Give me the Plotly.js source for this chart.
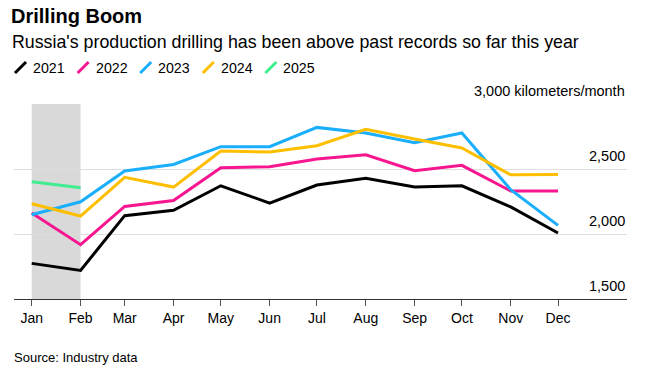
<!DOCTYPE html>
<html>
<head>
<meta charset="utf-8">
<script src="https://cdn.plot.ly/plotly-3.0.1.min.js"></script>
<style>html,body{margin:0;padding:0;background:#fff;}#chart{width:653px;height:372px;}</style>
</head>
<body>
<div id="chart"></div>
<script>
const months = ['2021-01-01','2021-02-01','2021-03-01','2021-04-01','2021-05-01','2021-06-01','2021-07-01','2021-08-01','2021-09-01','2021-10-01','2021-11-01','2021-12-01'];
const monthLabels = ['Jan','Feb','Mar','Apr','May','Jun','Jul','Aug','Sep','Oct','Nov','Dec'];
const seriesNames = ['2021','2022','2023','2024','2025'];
const v2021 = [1774, 1720, 2141, 2182, 2371, 2238, 2377, 2428, 2361, 2371, 2208, 2008];
const v2022 = [2161, 1918, 2212, 2258, 2510, 2518, 2577, 2610, 2487, 2528, 2331, 2331];
const v2023 = [2148, 2248, 2485, 2535, 2672, 2672, 2820, 2777, 2702, 2777, 2341, 2066];
const v2024 = [2233, 2138, 2436, 2361, 2638, 2631, 2679, 2805, 2731, 2662, 2455, 2458];
const v2025 = [2402, 2356];
const yTickVals = [1500, 2000, 2500, 3000];
const yTickText = ['1,500', '2,000', '2,500', '3,000 kilometers/month'];
const shadeRange = ['2021-01-01', '2021-02-01'];

const colors = ['#000000', '#f7168f', '#1aaefc', '#fdbf00', '#3fee90'];
const values = [v2021, v2022, v2023, v2024, v2025];
const FONT = 'Liberation Sans, Arial, Helvetica, sans-serif';

const traces = values.map((v, i) => ({
  type: 'scatter', mode: 'lines',
  x: months.slice(0, v.length), y: v,
  name: seriesNames[i],
  line: {color: colors[i], width: 3},
  hoverinfo: 'skip'
}));

const L = 14, R = 26, T = 104, B = 73, W = 653, H = 372;
const pw = W - L - R, ph = H - T - B;
const px = x => (x - L) / pw;
const py = y => (H - B - y) / ph;

const shapes = [{
  type: 'rect', xref: 'x', yref: 'paper',
  x0: shadeRange[0], x1: shadeRange[1], y0: 0, y1: 1,
  fillcolor: '#d9d9d9', line: {width: 0}, layer: 'below'
}];
const annotations = [];

// custom legend with slanted marks
seriesNames.forEach((n, i) => {
  const x0 = 15 + 62.6 * i;
  shapes.push({
    type: 'line', xref: 'paper', yref: 'paper',
    x0: px(x0), y0: py(73), x1: px(x0 + 11), y1: py(62),
    line: {color: colors[i], width: 3}
  });
  annotations.push({
    xref: 'paper', yref: 'paper', x: px(x0 + 16), y: py(67.5),
    xanchor: 'left', yanchor: 'middle', showarrow: false,
    text: n, font: {family: FONT, size: 14.2, color: '#000'}
  });
});

// y tick labels above gridlines, right aligned
yTickVals.forEach((v, i) => {
  annotations.push({
    xref: 'paper', yref: 'y', x: 1, y: v,
    xanchor: 'right', yanchor: 'bottom', yshift: 3, showarrow: false,
    text: yTickText[i], font: {family: FONT, size: 14.5, color: '#000'}
  });
});

annotations.push({
  xref: 'paper', yref: 'paper', x: px(10), y: py(42),
  xanchor: 'left', yanchor: 'middle', showarrow: false,
  text: "Russia's production drilling has been above past records so far this year",
  font: {family: FONT, size: 17.8, color: '#000'}
});
annotations.push({
  xref: 'paper', yref: 'paper', x: px(12), y: py(357),
  xanchor: 'left', yanchor: 'middle', showarrow: false,
  text: 'Source: Industry data',
  font: {family: FONT, size: 13, color: '#000'}
});

const layout = {
  width: W, height: H,
  margin: {l: L, r: R, t: T, b: B, pad: 0},
  paper_bgcolor: '#fff', plot_bgcolor: '#fff',
  showlegend: false,
  title: {
    text: '<b>Drilling Boom</b>',
    xref: 'container', yref: 'container',
    x: 11 / W, xanchor: 'left', y: 1 - 16 / H, yanchor: 'middle',
    font: {family: FONT, size: 20, color: '#000'}
  },
  xaxis: {
    type: 'date',
    range: ['2020-12-20 18:00', '2022-01-13 19:00'],
    tickvals: months, ticktext: monthLabels,
    ticks: 'outside', ticklen: 6, tickcolor: '#555', tickwidth: 1,
    showgrid: false, zeroline: false,
    showline: true, linecolor: '#333', linewidth: 1,
    tickfont: {family: FONT, size: 14, color: '#000'},
    fixedrange: true
  },
  yaxis: {
    range: [1500, 3000],
    tickvals: yTickVals, showticklabels: false,
    showgrid: true, gridcolor: '#dedede', gridwidth: 1,
    zeroline: false, showline: false, ticks: '',
    fixedrange: true
  },
  shapes: shapes,
  annotations: annotations
};

Plotly.newPlot('chart', traces, layout, {displayModeBar: false, staticPlot: true});
</script>
</body>
</html>
